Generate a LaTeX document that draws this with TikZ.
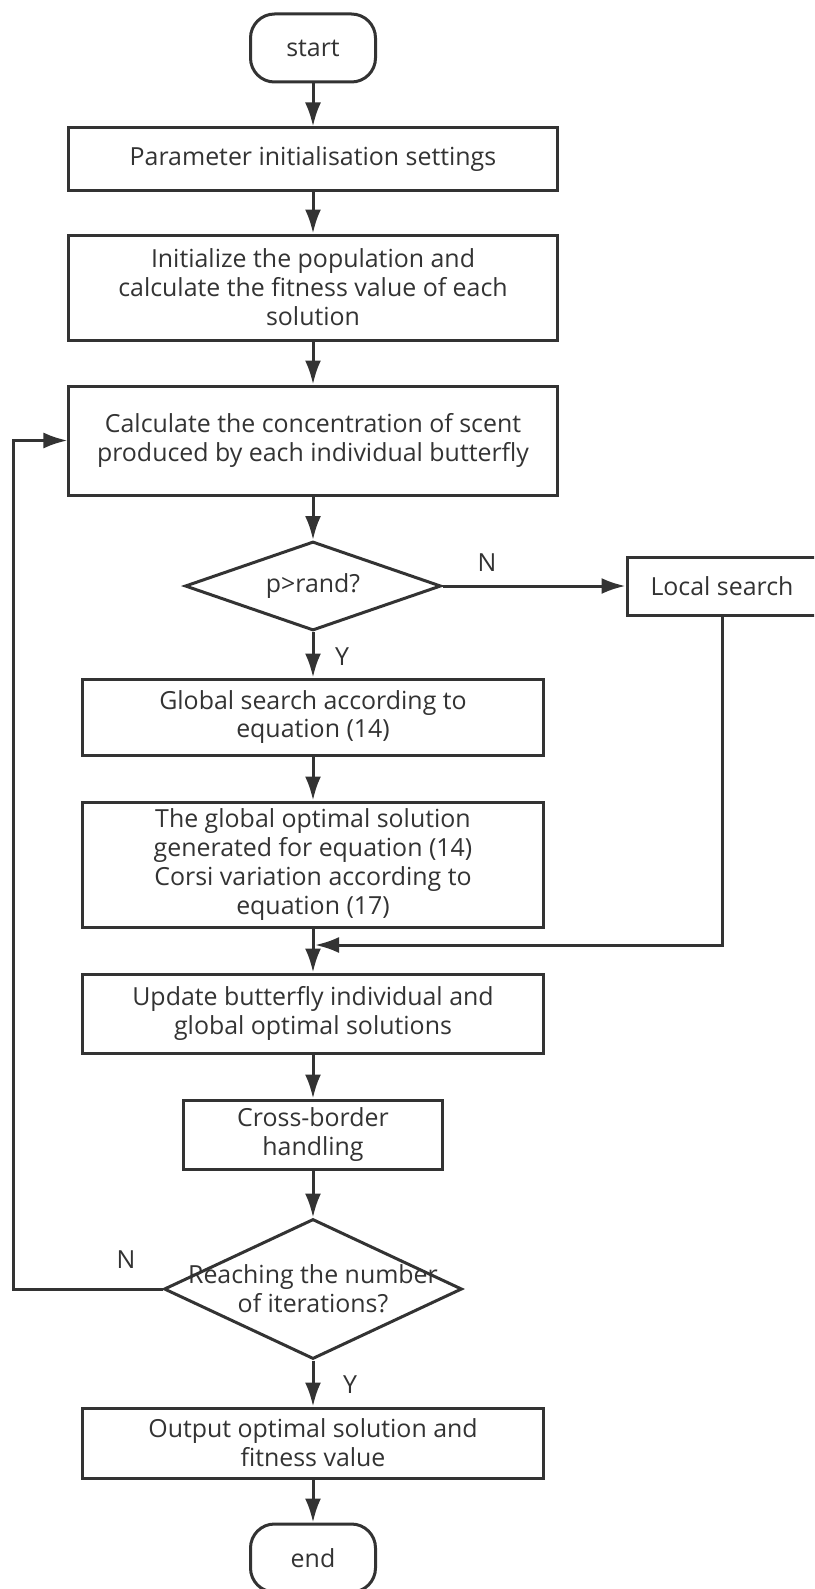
\documentclass[tikz,border=0pt]{standalone}
\usepackage{fontspec}
\setmainfont{Open Sans}
\usetikzlibrary{shapes.geometric,arrows.meta}
\definecolor{ln}{HTML}{333333}
\begin{document}
\begin{tikzpicture}[x=1bp,y=-1bp,
  every node/.style={font=\fontsize{25}{29}\selectfont, text=ln},
  box/.style={draw=ln, line width=3bp, rectangle, align=center, inner sep=0pt, fill=white},
  term/.style={draw=ln, line width=3bp, rectangle, rounded corners=24bp, inner sep=0pt, minimum width=125bp, minimum height=68bp},
  diam/.style={draw=ln, line width=3bp, diamond, inner sep=0pt},
  arr/.style={draw=ln, line width=3bp, -{Latex[length=24bp,width=16bp]}},
  lbl/.style={inner sep=0pt}]
\useasboundingbox (0,0) rectangle (814,1589);
\clip (0,0) rectangle (814,1589);
\fill[white] (0,0) rectangle (814,1589);

\node[term] (start) at (313,48) {start};
\node[box, minimum width=488bp, minimum height=62bp] (p1) at (313,159) {Parameter initialisation settings};
\node[box, minimum width=488bp, minimum height=105bp] (p2) at (313,287.5) {Initialize the population and\\calculate the fitness value of each\\solution};
\node[box, minimum width=488bp, minimum height=109bp] (p3) at (313,440.5) {Calculate the concentration of scent\\produced by each individual butterfly};
\node[diam, minimum width=256bp, minimum height=89bp] (d1) at (313,586) {};
\node[lbl] (d1t) at (313,586) {p>rand?};
\node[box, minimum width=190bp, minimum height=58bp] (local) at (722,586) {Local search};
\node[box, minimum width=461bp, minimum height=76bp] (g1) at (313,717) {Global search according to\\equation (14)};
\node[box, minimum width=461bp, minimum height=125bp] (g2) at (313,864.5) {The global optimal solution\\generated for equation (14)\\Corsi variation according to\\equation (17)};
\node[box, minimum width=461bp, minimum height=79bp] (u1) at (313,1013.5) {Update butterfly individual and\\global optimal solutions};
\node[box, minimum width=259bp, minimum height=69bp] (cb) at (313,1134.5) {Cross-border\\handling};
\node[diam, minimum width=298bp, minimum height=140bp] (d2) at (313,1289) {};
\node[lbl, align=center] (d2t) at (313,1289) {Reaching the number\\of iterations?};
\node[box, minimum width=461bp, minimum height=70bp] (out) at (313,1443) {Output optimal solution and\\fitness value};
\node[term] (end) at (313,1558) {end};

\coordinate (mj) at (315,945);
\coordinate (lp) at (13,1289);

\draw[arr] (start) -- (p1);
\draw[arr] (p1) -- (p2);
\draw[arr] (p2) -- (p3);
\draw[arr] (p3) -- (d1);
\draw[arr] (d1) -- (local);
\draw[arr] (d1) -- (g1);
\draw[arr] (g1) -- (g2);
\draw[arr] (g2) -- (u1);
\draw[arr] (local.south) |- (mj);
\draw[arr] (u1) -- (cb);
\draw[arr] (cb) -- (d2);
\draw[arr] (d2) -- (out);
\draw[arr] (out) -- (end);
\draw[arr] (d2.west) -- (lp) |- (p3.west);

\node[lbl] (n1) at (487,563) {N};
\node[lbl] (y1) at (342,657) {Y};
\node[lbl] (n2) at (126,1260) {N};
\node[lbl] (y2) at (350,1385) {Y};
\end{tikzpicture}
\end{document}
